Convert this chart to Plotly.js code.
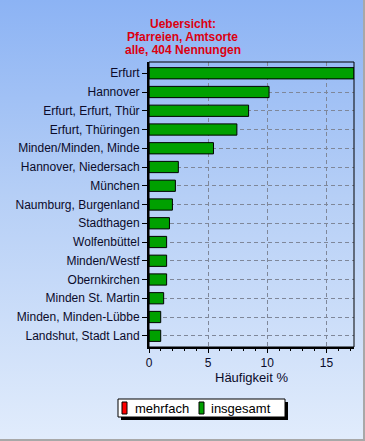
<!DOCTYPE html>
<html>
<head>
<meta charset="utf-8">
<script src="https://cdn.plot.ly/plotly-3.0.1.min.js"></script>
<style>
  html, body { margin: 0; padding: 0; }
  body { width: 365px; height: 441px; overflow: hidden; }
  #wrap {
    position: relative; width: 363px; height: 439px;
    background: linear-gradient(to bottom, #8cb3f4 0%, #b6cff6 45%, #e1ecfc 100%);
    border-right: 2px solid #a8a8a8; border-bottom: 2px solid #a8a8a8;
  }
  #chart { position: absolute; left: 0; top: 0; width: 365px; height: 441px; }
</style>
</head>
<body>
<div id="wrap"><div id="chart"></div></div>
<script>
const categories = [
  "Erfurt", "Hannover", "Erfurt, Erfurt, Thür", "Erfurt, Thüringen",
  "Minden/Minden, Minde", "Hannover, Niedersach", "München",
  "Naumburg, Burgenland", "Stadthagen", "Wolfenbüttel", "Minden/Westf",
  "Obernkirchen", "Minden St. Martin", "Minden, Minden-Lübbe", "Landshut, Stadt Land"
];
const insgesamt = [17.33, 10.15, 8.42, 7.43, 5.45, 2.48, 2.23, 1.98, 1.73, 1.49, 1.49, 1.49, 1.24, 0.99, 0.99];
const mehrfach = [0, 0, 0, 0, 0, 0, 0, 0, 0, 0, 0, 0, 0, 0, 0];
const seriesNames = ["mehrfach", "insgesamt"];
const seriesColors = ["#ff0000", "#00a000"];
const titleLines = ["Uebersicht:", "Pfarreien, Amtsorte", "alle, 404 Nennungen"];
const xTitle = "Häufigkeit %";
const xTicks = [0, 5, 10, 15];

const font = "Liberation Sans, Arial, sans-serif";
const txtColor = "#0b0b2a";

// plot-area geometry (pixels) used to place the hand-drawn legend and title
const W = 365, H = 441;
const M = { l: 149, r: 11, t: 62, b: 94 };
const pw = W - M.l - M.r, ph = H - M.t - M.b;
const px = x => (x - M.l) / pw;
const py = y => (H - M.b - y) / ph;

const traces = [
  { type: "bar", orientation: "h", name: seriesNames[0], y: categories, x: mehrfach,
    marker: { color: seriesColors[0], line: { color: "#000", width: 1 } }, width: 0.6, hoverinfo: "skip" },
  { type: "bar", orientation: "h", name: seriesNames[1], y: categories, x: insgesamt,
    marker: { color: seriesColors[1], line: { color: "#000", width: 1 } }, width: 0.6, hoverinfo: "skip" }
];

const titleYpx = [24, 37, 50];
const annotations = titleLines.map((t, i) => ({
  text: t, xref: "paper", yref: "paper", x: px(182.5), y: py(titleYpx[i]),
  xanchor: "center", yanchor: "middle", showarrow: false,
  font: { family: font, size: 12, color: "#dd0011", weight: "bold" }
}));

// legend (drawn as shapes + text)
const legBox = { x0: 118, x1: 285, y0: 399, y1: 417 };
const legItems = [
  { sw: [122, 127], tx: 133 },
  { sw: [199, 204], tx: 209 }
];
const shapes = [
  { type: "rect", xref: "paper", yref: "paper", x0: 0, x1: 1, y0: 0, y1: 1,
    line: { color: "#000", width: 1 }, fillcolor: "rgba(0,0,0,0)", layer: "above" },
  { type: "rect", xref: "paper", yref: "paper",
    x0: px(legBox.x0 + 3), x1: px(legBox.x1 + 3), y0: py(legBox.y1 + 3), y1: py(legBox.y0 + 3),
    line: { width: 0 }, fillcolor: "#000", layer: "above" },
  { type: "rect", xref: "paper", yref: "paper",
    x0: px(legBox.x0), x1: px(legBox.x1), y0: py(legBox.y1), y1: py(legBox.y0),
    line: { color: "#000", width: 1 }, fillcolor: "#fff", layer: "above" }
];
legItems.forEach((it, i) => {
  shapes.push({ type: "rect", xref: "paper", yref: "paper",
    x0: px(it.sw[0]), x1: px(it.sw[1]), y0: py(414), y1: py(402),
    line: { color: "#000", width: 1 }, fillcolor: seriesColors[i], layer: "above" });
  annotations.push({ text: seriesNames[i], xref: "paper", yref: "paper",
    x: px(it.tx), y: py(408), xanchor: "left", yanchor: "middle", showarrow: false,
    font: { family: font, size: 13, color: "#000" } });
});

const layout = {
  width: W, height: H,
  margin: { l: M.l, r: M.r, t: M.t, b: M.b, pad: 0 },
  paper_bgcolor: "rgba(0,0,0,0)", plot_bgcolor: "rgba(0,0,0,0)",
  barmode: "overlay",
  showlegend: false,
  font: { family: font, size: 12, color: txtColor },
  xaxis: {
    range: [0, 17.33], tickvals: xTicks, ticktext: xTicks.map(String),
    showgrid: true, gridcolor: "#7f8799", griddash: "4px,3px", gridwidth: 1,
    zeroline: false, showline: true, linecolor: "#000", linewidth: 2,
    ticks: "outside", ticklen: 4, tickcolor: "#000", tickwidth: 1,
    minor: { dtick: 1, tick0: 0, ticks: "outside", ticklen: 2, tickcolor: "#000", showgrid: false },
    tickfont: { family: font, size: 12, color: txtColor },
    title: { text: xTitle, font: { family: font, size: 13, color: txtColor }, standoff: 3 },
    fixedrange: true
  },
  yaxis: {
    type: "category", range: [14.6, -0.6],
    showgrid: true, gridcolor: "#7f8799", griddash: "4px,3px", gridwidth: 1,
    zeroline: false, showline: true, linecolor: "#000", linewidth: 2,
    ticks: "outside", ticklen: 5, tickcolor: "#000", tickwidth: 1,
    tickfont: { family: font, size: 12, color: txtColor },
    automargin: false, fixedrange: true
  },
  annotations: annotations,
  shapes: shapes
};

Plotly.newPlot("chart", traces, layout, { displayModeBar: false, staticPlot: true });
</script>
</body>
</html>
